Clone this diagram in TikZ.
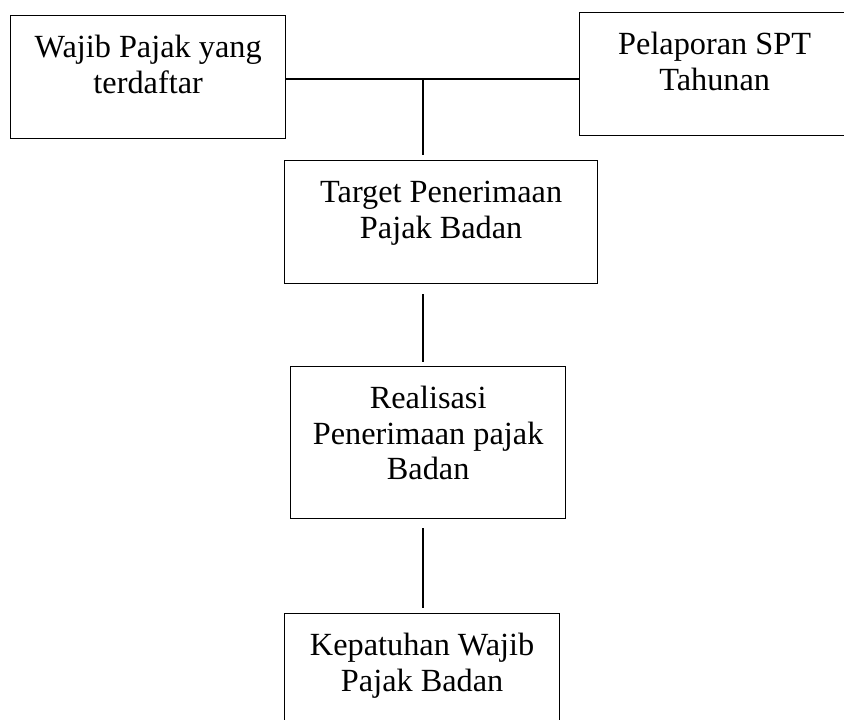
\documentclass[tikz,border=0pt]{standalone}
\usepackage{fontspec}
\setmainfont{Liberation Serif}
\newcommand\boxtxt[3]{\parbox[t][#2pt][t]{#1pt}{\centering\fontsize{32.3}{35.5}\selectfont\rule{0pt}{42pt}#3}}
\tikzset{
  boxnode/.style={draw, line width=1.3pt, inner sep=0pt, anchor=north west},
  conn/.style={line width=1.3pt}
}
\begin{document}
\begin{tikzpicture}[x=1pt,y=-1pt]
\useasboundingbox (0,0) rectangle (844,720);
\begin{scope}
\clip (0,0) rectangle (844,720);
\node[boxnode] (wp) at (10,15) {\boxtxt{275}{123}{Wajib Pajak yang\\terdaftar}};
\node[boxnode] (spt) at (579,12) {\boxtxt{270}{123}{Pelaporan SPT\\Tahunan}\hspace*{30pt}};
\node[boxnode] (tg) at (284,160) {\boxtxt{313}{123}{Target Penerimaan\\Pajak Badan}};
\node[boxnode] (rl) at (290,366) {\boxtxt{275}{152}{Realisasi\\Penerimaan pajak\\Badan}};
\node[boxnode] (kp) at (284,613) {\boxtxt{275}{130}{Kepatuhan Wajib\\Pajak Badan}};
\coordinate (j) at (423,79);
\draw[conn] (j -| wp.east) -- (j -| spt.west);
\draw[conn, shorten >=5pt] (j) -- (j |- tg.north);
\draw[conn, shorten <=10pt, shorten >=4pt] (j |- tg.south) -- (j |- rl.north);
\draw[conn, shorten <=9pt, shorten >=5pt] (j |- rl.south) -- (j |- kp.north);
\end{scope}
\end{tikzpicture}
\end{document}
